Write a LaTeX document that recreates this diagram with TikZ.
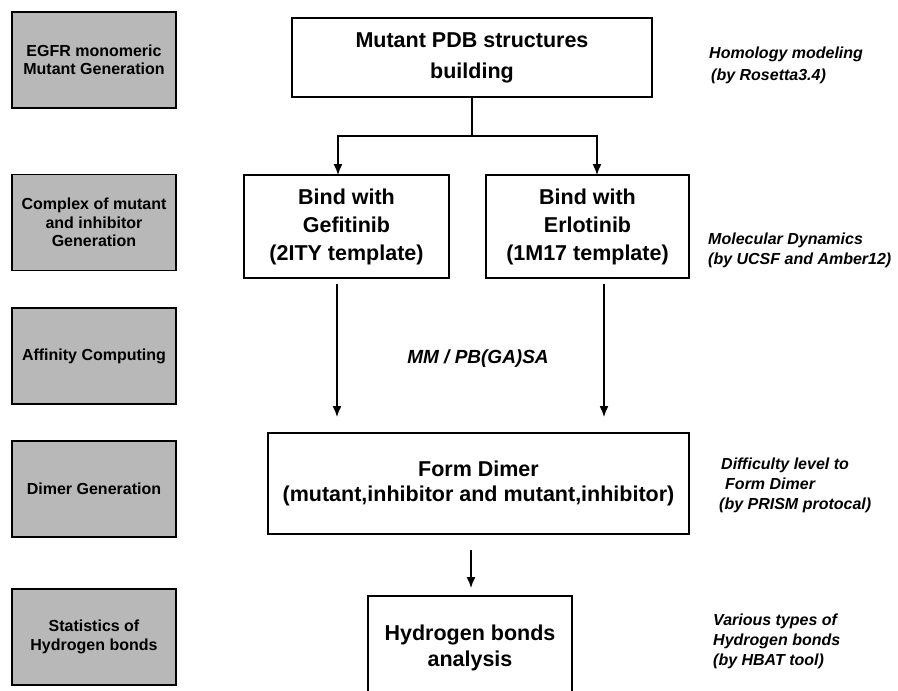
\documentclass[tikz,border=0pt]{standalone}
\usepackage{fontspec}
\setmainfont{Liberation Sans}
\usetikzlibrary{arrows.meta}
\begin{document}
\begin{tikzpicture}[x=1pt,y=-1pt,
  graybox/.style={draw=black, line width=1.6pt, fill=black!28, minimum width=164pt, minimum height=96pt, inner sep=0pt, outer sep=0pt, align=center, font=\bfseries\fontsize{16}{18.5}\selectfont},
  mainbox/.style={draw=black, line width=1.4pt, fill=white, inner sep=0pt, outer sep=0pt, align=center, font=\bfseries\fontsize{21.5}{28}\selectfont},
  note/.style={anchor=west, align=left, inner sep=0pt, font=\bfseries\itshape\fontsize{16}{20}\selectfont},
  arr/.style={line width=1.4pt, -{Latex[length=11pt,width=9pt]}}
]
\useasboundingbox (0,0) rectangle (898,691);
\clip (0,0) rectangle (898,691);

% left stage boxes
\node[graybox] (g1) at (94,60) {EGFR monomeric\\Mutant Generation};
\node[graybox] (g2) at (94,222.5) {Complex of mutant\\and inhibitor\\Generation};
\node[graybox] (g3) at (94,356) {Affinity Computing};
\node[graybox] (g4) at (94,489) {Dimer Generation};
\node[graybox] (g5) at (94,637) {Statistics of\\Hydrogen bonds};

% main flow
\node[mainbox, minimum width=360pt, minimum height=79pt, font=\bfseries\fontsize{21.5}{31}\selectfont] (top) at (472,57.5) {Mutant PDB structures\\building};
\node[mainbox, minimum width=205pt, minimum height=103pt] (gef) at (346.5,226.5) {Bind with\\Gefitinib\\(2ITY template)};
\node[mainbox, minimum width=203pt, minimum height=103pt] (erl) at (587.5,226.5) {Bind with\\Erlotinib\\(1M17 template)};
\node[mainbox, minimum width=421pt, minimum height=101pt, font=\bfseries\fontsize{21.5}{24.5}\selectfont] (dim) at (478.5,483.5) {Form Dimer\\(mutant,inhibitor and mutant,inhibitor)};
\node[mainbox, minimum width=204pt, minimum height=104pt, font=\bfseries\fontsize{21.5}{26}\selectfont] (hyd) at (470,648) {Hydrogen bonds\\analysis};

% connectors
\coordinate (jl) at (338,136);
\coordinate (jr) at (597,136);
\draw[arr] (top.south) |- (jl) -- (jl |- gef.north);
\draw[arr] (top.south) |- (jr) -- (jr |- erl.north);

\coordinate (al) at (337,284);
\coordinate (ar) at (604,284);
\draw[arr, shorten >=16pt] (al) -- (al |- dim.north);
\draw[arr, shorten >=16pt] (ar) -- (ar |- dim.north);

\coordinate (hx) at (471,0);
\draw[arr, shorten <=16pt, shorten >=8pt] (dim.south -| hx) -- (hx |- hyd.north);

\node[font=\bfseries\itshape\fontsize{19}{22}\selectfont, anchor=base, inner sep=0pt] (mm) at (478,363) {MM / PB(GA)SA};

% annotations
\node[note, font=\bfseries\itshape\fontsize{16}{22}\selectfont] (n1) at (709,65) {Homology modeling\\\hspace*{2pt}(by Rosetta3.4)};
\node[note] (n2) at (708,250) {Molecular Dynamics\\(by UCSF and Amber12)};
\node[note] (n3) at (719,485.5) {\hspace*{2pt}Difficulty level to\\\hspace*{6pt}Form Dimer\\(by PRISM protocal)};
\node[note] (n4) at (713,641) {Various types of\\Hydrogen bonds\\(by HBAT tool)};
\end{tikzpicture}
\end{document}
